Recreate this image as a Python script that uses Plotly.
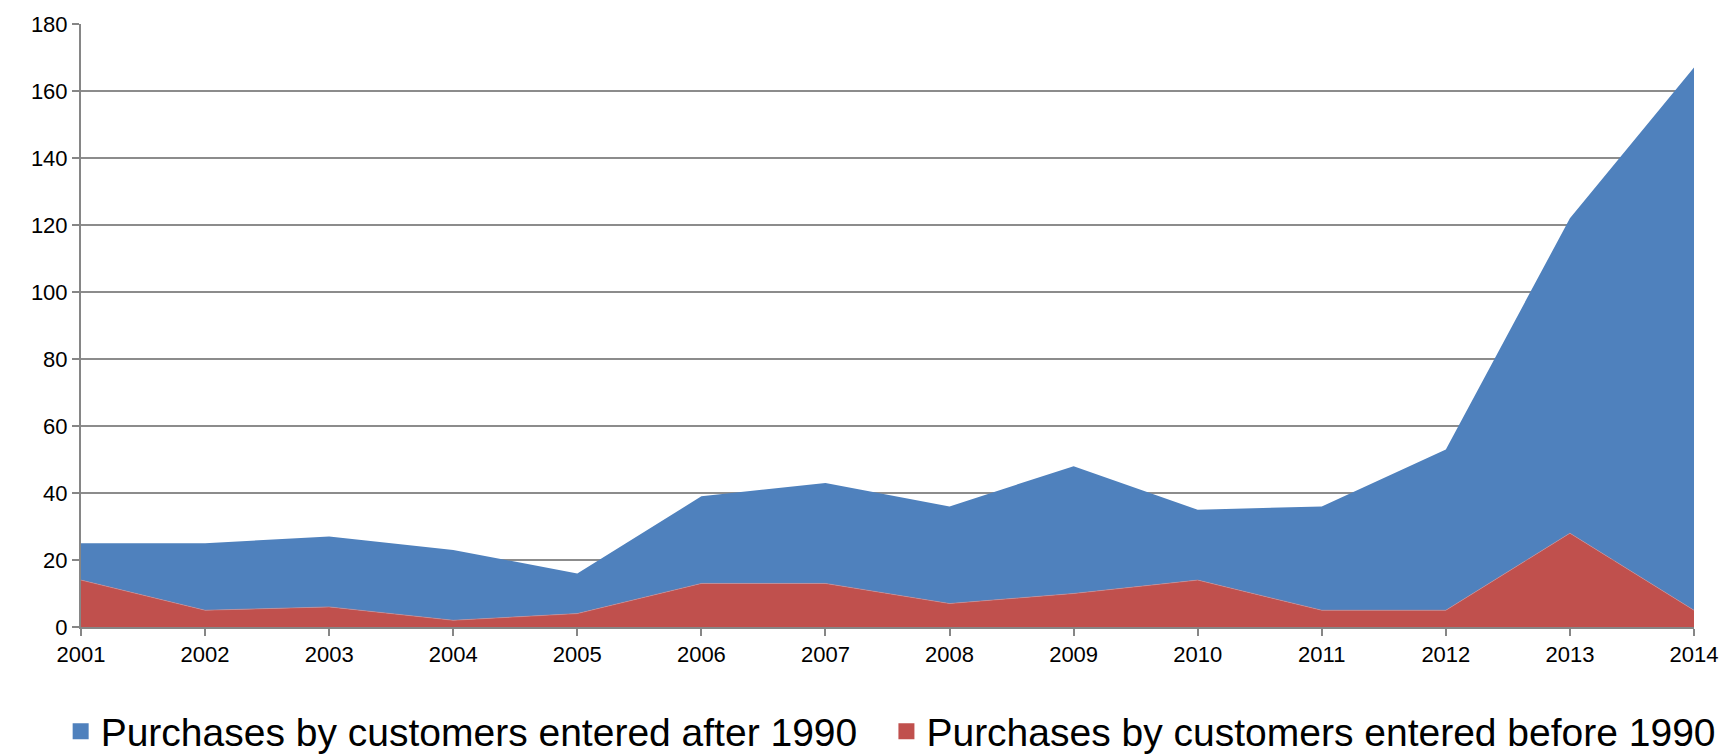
import plotly.graph_objects as go

years = [2001, 2002, 2003, 2004, 2005, 2006, 2007, 2008, 2009, 2010, 2011, 2012, 2013, 2014]
total = [25, 25, 27, 23, 16, 39, 43, 36, 48, 35, 36, 53, 122, 167]
before_1990 = [14, 5, 6, 2, 4, 13, 13, 7, 10, 14, 5, 5, 28, 5]
after_1990 = [t - b for t, b in zip(total, before_1990)]

y_ticks = list(range(0, 181, 20))

BLUE = "#4F81BD"
RED = "#C0504D"

fig = go.Figure()
fig.add_trace(go.Scatter(
    x=years, y=before_1990, name="Purchases by customers entered before 1990",
    mode="lines", stackgroup="one", line=dict(width=0.6, color="#D98C8A"),
    fillcolor=RED, showlegend=False,
))
fig.add_trace(go.Scatter(
    x=years, y=after_1990, name="Purchases by customers entered after 1990",
    mode="lines", stackgroup="one", line=dict(width=0, color=BLUE),
    fillcolor=BLUE, showlegend=False,
))
# legend entries (square swatches)
fig.add_trace(go.Scatter(
    x=[None], y=[None], mode="markers", name="Purchases by customers entered after 1990",
    marker=dict(symbol="square", size=26, color=BLUE), legend="legend",
))
fig.add_trace(go.Scatter(
    x=[None], y=[None], mode="markers", name="Purchases by customers entered before 1990",
    marker=dict(symbol="square", size=26, color=RED), legend="legend2",
))

legend_common = dict(orientation="h", xref="container", yref="container",
                     xanchor="left", y=0.03, yanchor="middle",
                     font=dict(size=39), itemsizing="trace", bgcolor="rgba(0,0,0,0)")

fig.update_layout(
    width=1733, height=754,
    margin=dict(l=81, r=39, t=20, b=127),
    paper_bgcolor="white", plot_bgcolor="white",
    font=dict(family="Liberation Sans", color="black", size=22),
    showlegend=True,
    legend=dict(x=0.035, **legend_common),
    legend2=dict(x=0.5115, **legend_common),
    xaxis=dict(range=[2001, 2014], tickvals=years, ticktext=[str(y) for y in years],
               showgrid=False, showline=True, linecolor="#868686", linewidth=2,
               ticks="outside", ticklen=7, tickcolor="#868686", tickwidth=1.5,
               zeroline=False, tickfont=dict(size=22)),
    yaxis=dict(range=[0, 180], tickvals=y_ticks, showgrid=True, gridcolor="#8C8C8C",
               gridwidth=1.5, showline=True, linecolor="#868686", linewidth=2,
               ticks="outside", ticklen=7, tickcolor="#868686", tickwidth=1.5,
               zeroline=False, tickfont=dict(size=22)),
)

fig.write_html("out.html")
